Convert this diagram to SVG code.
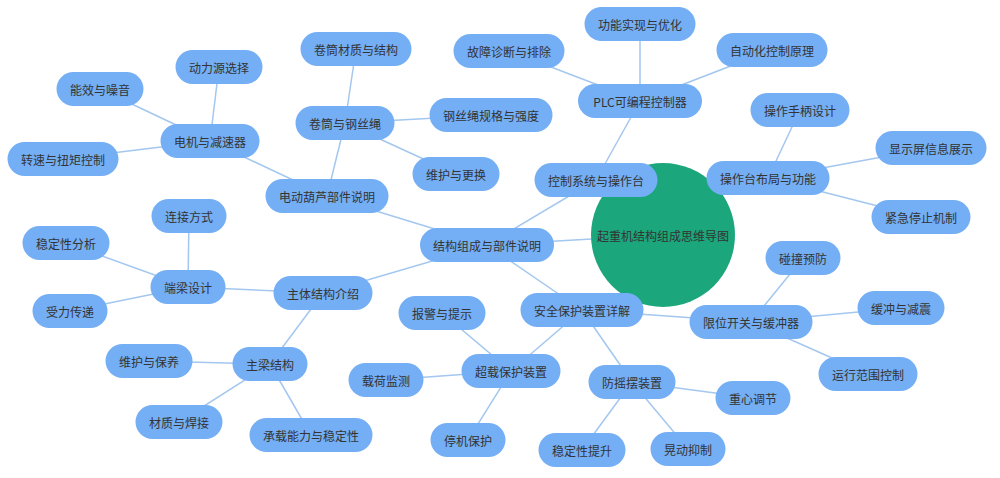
<svg xmlns="http://www.w3.org/2000/svg" width="1000" height="478" viewBox="0 0 1000 478">
<style>
.e{stroke:#a3c7ef;stroke-width:1.5;fill:none}
.n rect{fill:#74aef4}
text{font-family:"Noto Sans CJK SC","Noto Sans",sans-serif;font-size:12px;fill:#333;text-anchor:middle;dominant-baseline:central}
</style>
<rect width="1000" height="478" fill="#ffffff"/>
<g id="connectors">
<line class="e" x1="663" y1="235" x2="487" y2="245"/>
<line class="e" x1="487" y1="245" x2="596" y2="180"/>
<line class="e" x1="487" y1="245" x2="582" y2="310"/>
<line class="e" x1="487" y1="245" x2="327" y2="196"/>
<line class="e" x1="487" y1="245" x2="323" y2="293"/>
<line class="e" x1="596" y1="180" x2="640" y2="101"/>
<line class="e" x1="596" y1="180" x2="768" y2="178"/>
<line class="e" x1="640" y1="101" x2="509" y2="51"/>
<line class="e" x1="640" y1="101" x2="640" y2="24"/>
<line class="e" x1="640" y1="101" x2="772" y2="50"/>
<line class="e" x1="768" y1="178" x2="800" y2="110"/>
<line class="e" x1="768" y1="178" x2="931" y2="148"/>
<line class="e" x1="768" y1="178" x2="921" y2="217"/>
<line class="e" x1="327" y1="196" x2="210" y2="141"/>
<line class="e" x1="327" y1="196" x2="345" y2="123"/>
<line class="e" x1="210" y1="141" x2="219" y2="67"/>
<line class="e" x1="210" y1="141" x2="100" y2="89"/>
<line class="e" x1="210" y1="141" x2="63" y2="159"/>
<line class="e" x1="345" y1="123" x2="356" y2="49"/>
<line class="e" x1="345" y1="123" x2="491" y2="115"/>
<line class="e" x1="345" y1="123" x2="456" y2="174"/>
<line class="e" x1="323" y1="293" x2="188" y2="287"/>
<line class="e" x1="323" y1="293" x2="270" y2="364"/>
<line class="e" x1="188" y1="287" x2="189" y2="216"/>
<line class="e" x1="188" y1="287" x2="66" y2="243"/>
<line class="e" x1="188" y1="287" x2="70" y2="311"/>
<line class="e" x1="270" y1="364" x2="149" y2="361"/>
<line class="e" x1="270" y1="364" x2="179" y2="422"/>
<line class="e" x1="270" y1="364" x2="311" y2="435"/>
<line class="e" x1="582" y1="310" x2="511" y2="371"/>
<line class="e" x1="582" y1="310" x2="632" y2="382"/>
<line class="e" x1="582" y1="310" x2="751" y2="322"/>
<line class="e" x1="511" y1="371" x2="442" y2="313"/>
<line class="e" x1="511" y1="371" x2="386" y2="380"/>
<line class="e" x1="511" y1="371" x2="468" y2="440"/>
<line class="e" x1="632" y1="382" x2="753" y2="398"/>
<line class="e" x1="632" y1="382" x2="582" y2="450"/>
<line class="e" x1="632" y1="382" x2="688" y2="449"/>
<line class="e" x1="751" y1="322" x2="803" y2="258"/>
<line class="e" x1="751" y1="322" x2="901" y2="308"/>
<line class="e" x1="751" y1="322" x2="868" y2="374"/>
</g>
<g id="root"><circle cx="663" cy="235" r="72" fill="#1ca67b"/><text x="663" y="235">起重机结构组成思维导图</text></g>
<g id="n-jiegou" class="n"><rect x="420" y="228" width="134" height="34" rx="17"/><text x="487" y="245">结构组成与部件说明</text></g>
<g id="n-kongzhi" class="n"><rect x="534.5" y="163" width="123" height="34" rx="17"/><text x="596" y="180">控制系统与操作台</text></g>
<g id="n-anquan" class="n"><rect x="520.5" y="293" width="123" height="34" rx="17"/><text x="582" y="310">安全保护装置详解</text></g>
<g id="n-hulu" class="n"><rect x="265.5" y="179" width="123" height="34" rx="17"/><text x="327" y="196">电动葫芦部件说明</text></g>
<g id="n-zhuti" class="n"><rect x="273.5" y="276" width="99" height="34" rx="17"/><text x="323" y="293">主体结构介绍</text></g>
<g id="n-plc" class="n"><rect x="578" y="84" width="124" height="34" rx="17"/><text x="640" y="101">PLC可编程控制器</text></g>
<g id="n-guzhang" class="n"><rect x="453.5" y="34" width="111" height="34" rx="17"/><text x="509" y="51">故障诊断与排除</text></g>
<g id="n-gongneng" class="n"><rect x="584.5" y="7" width="111" height="34" rx="17"/><text x="640" y="24">功能实现与优化</text></g>
<g id="n-zidong" class="n"><rect x="716.5" y="33" width="111" height="34" rx="17"/><text x="772" y="50">自动化控制原理</text></g>
<g id="n-buju" class="n"><rect x="706.5" y="161" width="123" height="34" rx="17"/><text x="768" y="178">操作台布局与功能</text></g>
<g id="n-shoubing" class="n"><rect x="750.5" y="93" width="99" height="34" rx="17"/><text x="800" y="110">操作手柄设计</text></g>
<g id="n-xianshi" class="n"><rect x="875.5" y="131" width="111" height="34" rx="17"/><text x="931" y="148">显示屏信息展示</text></g>
<g id="n-jinji" class="n"><rect x="871.5" y="200" width="99" height="34" rx="17"/><text x="921" y="217">紧急停止机制</text></g>
<g id="n-dianji" class="n"><rect x="160.5" y="124" width="99" height="34" rx="17"/><text x="210" y="141">电机与减速器</text></g>
<g id="n-juantong" class="n"><rect x="295.5" y="106" width="99" height="34" rx="17"/><text x="345" y="123">卷筒与钢丝绳</text></g>
<g id="n-dongli" class="n"><rect x="175.5" y="50" width="87" height="34" rx="17"/><text x="219" y="67">动力源选择</text></g>
<g id="n-nengxiao" class="n"><rect x="56.5" y="72" width="87" height="34" rx="17"/><text x="100" y="89">能效与噪音</text></g>
<g id="n-zhuansu" class="n"><rect x="7.5" y="142" width="111" height="34" rx="17"/><text x="63" y="159">转速与扭矩控制</text></g>
<g id="n-caizhi" class="n"><rect x="300.5" y="32" width="111" height="34" rx="17"/><text x="356" y="49">卷筒材质与结构</text></g>
<g id="n-gangsi" class="n"><rect x="429.5" y="98" width="123" height="34" rx="17"/><text x="491" y="115">钢丝绳规格与强度</text></g>
<g id="n-weihu1" class="n"><rect x="412.5" y="157" width="87" height="34" rx="17"/><text x="456" y="174">维护与更换</text></g>
<g id="n-duanliang" class="n"><rect x="150.5" y="270" width="75" height="34" rx="17"/><text x="188" y="287">端梁设计</text></g>
<g id="n-lianjie" class="n"><rect x="151.5" y="199" width="75" height="34" rx="17"/><text x="189" y="216">连接方式</text></g>
<g id="n-wending" class="n"><rect x="22.5" y="226" width="87" height="34" rx="17"/><text x="66" y="243">稳定性分析</text></g>
<g id="n-shouli" class="n"><rect x="32.5" y="294" width="75" height="34" rx="17"/><text x="70" y="311">受力传递</text></g>
<g id="n-zhuliang" class="n"><rect x="232.5" y="347" width="75" height="34" rx="17"/><text x="270" y="364">主梁结构</text></g>
<g id="n-weihu2" class="n"><rect x="105.5" y="344" width="87" height="34" rx="17"/><text x="149" y="361">维护与保养</text></g>
<g id="n-hanjie" class="n"><rect x="135.5" y="405" width="87" height="34" rx="17"/><text x="179" y="422">材质与焊接</text></g>
<g id="n-chengzai" class="n"><rect x="249.5" y="418" width="123" height="34" rx="17"/><text x="311" y="435">承载能力与稳定性</text></g>
<g id="n-chaozai" class="n"><rect x="461.5" y="354" width="99" height="34" rx="17"/><text x="511" y="371">超载保护装置</text></g>
<g id="n-baojing" class="n"><rect x="398.5" y="296" width="87" height="34" rx="17"/><text x="442" y="313">报警与提示</text></g>
<g id="n-zaihe" class="n"><rect x="348.5" y="363" width="75" height="34" rx="17"/><text x="386" y="380">载荷监测</text></g>
<g id="n-tingji" class="n"><rect x="430.5" y="423" width="75" height="34" rx="17"/><text x="468" y="440">停机保护</text></g>
<g id="n-fangyao" class="n"><rect x="588.5" y="365" width="87" height="34" rx="17"/><text x="632" y="382">防摇摆装置</text></g>
<g id="n-zhongxin" class="n"><rect x="715.5" y="381" width="75" height="34" rx="17"/><text x="753" y="398">重心调节</text></g>
<g id="n-tisheng" class="n"><rect x="538.5" y="433" width="87" height="34" rx="17"/><text x="582" y="450">稳定性提升</text></g>
<g id="n-huangdong" class="n"><rect x="650.5" y="432" width="75" height="34" rx="17"/><text x="688" y="449">晃动抑制</text></g>
<g id="n-xianwei" class="n"><rect x="689.5" y="305" width="123" height="34" rx="17"/><text x="751" y="322">限位开关与缓冲器</text></g>
<g id="n-pengzhuang" class="n"><rect x="765.5" y="241" width="75" height="34" rx="17"/><text x="803" y="258">碰撞预防</text></g>
<g id="n-huanchong" class="n"><rect x="857.5" y="291" width="87" height="34" rx="17"/><text x="901" y="308">缓冲与减震</text></g>
<g id="n-fanwei" class="n"><rect x="818.5" y="357" width="99" height="34" rx="17"/><text x="868" y="374">运行范围控制</text></g>
</svg>
